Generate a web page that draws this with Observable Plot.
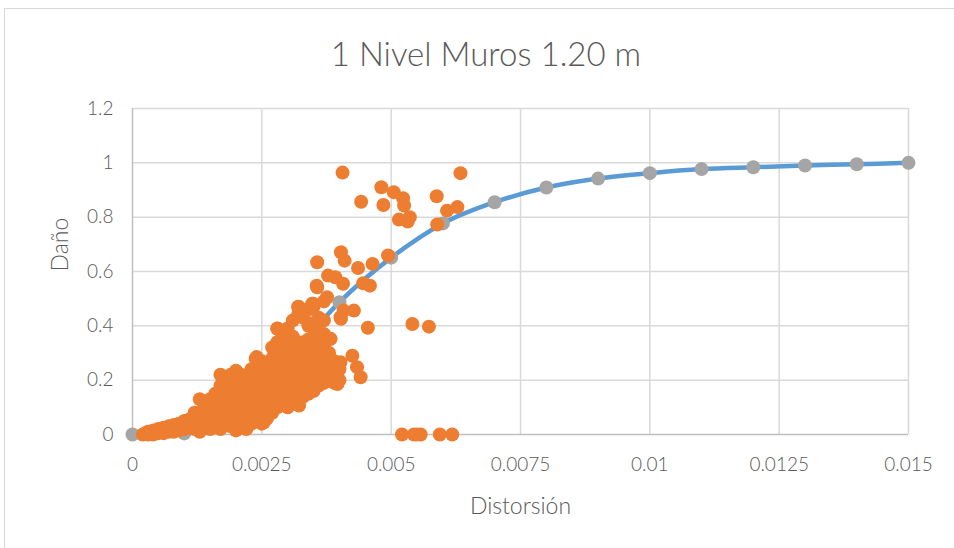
<!DOCTYPE html>
<html>
<head>
<meta charset="utf-8">
<script src="https://cdn.jsdelivr.net/npm/d3@7"></script>
<script src="https://cdn.jsdelivr.net/npm/@observablehq/plot@0.6"></script>
<style>
  html, body { margin: 0; padding: 0; background: #fff; overflow: hidden; }
  #wrap { position: relative; width: 954px; height: 548px; overflow: hidden; }
  #frame { position: absolute; left: 4px; top: 8px; width: 980px; height: 580px; border: 1.5px solid #d9d9d9; box-sizing: border-box; }
  #title { position: absolute; left: 4px; width: 964px; top: 33px; text-align: center; font-family: Lato, "Open Sans", sans-serif; font-size: 33px; color: #595959; margin: 0; font-weight: 300; }
  #chart { position: absolute; left: 0; top: 0; }
</style>
</head>
<body>
<div id="wrap">
  <div id="frame"></div>
  <div id="chart"></div>
  <h2 id="title">1 Nivel Muros 1.20 m</h2>
</div>
<script>
const chartTitle = "1 Nivel Muros 1.20 m";
const xLabel = "Distorsión";
const yLabel = "Daño";
const xTicks = [0, 0.0025, 0.005, 0.0075, 0.01, 0.0125, 0.015];
const xTickLabels = ["0", "0.0025", "0.005", "0.0075", "0.01", "0.0125", "0.015"];
const yTicks = [0, 0.2, 0.4, 0.6, 0.8, 1, 1.2];
const yTickLabels = ["0", "0.2", "0.4", "0.6", "0.8", "1", "1.2"];

// fitted fragility curve (gray markers + blue smooth line)
const curveX = [0, 0.001, 0.002, 0.003, 0.004, 0.005, 0.006, 0.007, 0.008, 0.009, 0.010, 0.011, 0.012, 0.013, 0.014, 0.015];
const curveY = [0, 0.004, 0.06, 0.27, 0.487, 0.651, 0.777, 0.855, 0.909, 0.942, 0.962, 0.977, 0.984, 0.990, 0.995, 1.0];

// observed damage vs drift (orange), dense cluster
const clusterPoints = [
[0.0002,0],[0.00025,0.005],[0.0003,0],[0.0003,0.01],[0.0004,0],[0.0004,0.015],[0.0005,0.005],[0.0005,0.02],
[0.0006,0.005],[0.0006,0.025],[0.0007,0.01],[0.0007,0.03],[0.0008,0.01],[0.0008,0.035],[0.0009,0.015],[0.0009,0.04],
[0.001,0.02],[0.001,0.05],[0.0011,0.025],[0.0011,0.055],[0.0012,0.02],[0.0012,0.05],[0.0012,0.08],
[0.0013,0.01],[0.0013,0.04],[0.0013,0.08],[0.0013,0.13],[0.0014,0.03],[0.0014,0.07],[0.0014,0.11],
[0.0015,0.02],[0.0015,0.06],[0.0015,0.1],[0.0015,0.13],[0.0016,0.03],[0.0016,0.07],[0.0016,0.11],[0.0016,0.15],
[0.0017,0.02],[0.0017,0.06],[0.0017,0.1],[0.0017,0.14],[0.0017,0.18],[0.0017,0.22],
[0.0018,0.04],[0.0018,0.08],[0.0018,0.12],[0.0018,0.16],[0.0018,0.2],
[0.0019,0.03],[0.0019,0.07],[0.0019,0.11],[0.0019,0.15],[0.0019,0.19],[0.0019,0.22],
[0.002,0.015],[0.002,0.05],[0.002,0.09],[0.002,0.13],[0.002,0.17],[0.002,0.21],[0.002,0.235],
[0.0021,0.03],[0.0021,0.07],[0.0021,0.11],[0.0021,0.15],[0.0021,0.19],[0.0021,0.22],
[0.0022,0.02],[0.0022,0.06],[0.0022,0.1],[0.0022,0.14],[0.0022,0.18],[0.0022,0.21],
[0.0023,0.04],[0.0023,0.08],[0.0023,0.12],[0.0023,0.16],[0.0023,0.2],[0.0023,0.24],
[0.0024,0.05],[0.0024,0.09],[0.0024,0.13],[0.0024,0.17],[0.0024,0.21],[0.0024,0.25],[0.0024,0.285],
[0.0025,0.04],[0.0025,0.08],[0.0025,0.12],[0.0025,0.16],[0.0025,0.2],[0.0025,0.24],[0.0025,0.27],
[0.0026,0.06],[0.0026,0.1],[0.0026,0.14],[0.0026,0.18],[0.0026,0.22],[0.0026,0.26],
[0.0027,0.08],[0.0027,0.12],[0.0027,0.16],[0.0027,0.2],[0.0027,0.24],[0.0027,0.28],[0.0027,0.32],
[0.0028,0.1],[0.0028,0.14],[0.0028,0.18],[0.0028,0.22],[0.0028,0.26],[0.0028,0.3],[0.0028,0.34],[0.0028,0.39],
[0.0029,0.11],[0.0029,0.15],[0.0029,0.19],[0.0029,0.23],[0.0029,0.27],[0.0029,0.31],[0.0029,0.36],
[0.003,0.1],[0.003,0.14],[0.003,0.18],[0.003,0.22],[0.003,0.26],[0.003,0.3],[0.003,0.34],[0.003,0.39],
[0.0031,0.12],[0.0031,0.16],[0.0031,0.2],[0.0031,0.24],[0.0031,0.28],[0.0031,0.32],[0.0031,0.36],[0.0031,0.42],
[0.0032,0.11],[0.0032,0.15],[0.0032,0.19],[0.0032,0.23],[0.0032,0.27],[0.0032,0.31],[0.0032,0.34],[0.0032,0.44],[0.0032,0.47],
[0.0033,0.14],[0.0033,0.18],[0.0033,0.22],[0.0033,0.26],[0.0033,0.3],[0.0033,0.34],[0.0033,0.43],
[0.0034,0.15],[0.0034,0.19],[0.0034,0.23],[0.0034,0.27],[0.0034,0.31],[0.0034,0.35],[0.0034,0.4],[0.0034,0.46],
[0.0035,0.16],[0.0035,0.2],[0.0035,0.24],[0.0035,0.28],[0.0035,0.32],[0.0035,0.36],[0.0035,0.41],[0.0035,0.47],
[0.0036,0.18],[0.0036,0.22],[0.0036,0.26],[0.0036,0.3],[0.0036,0.34],[0.0036,0.38],[0.0036,0.43],
[0.0037,0.19],[0.0037,0.23],[0.0037,0.28],[0.0037,0.32],[0.0037,0.37],[0.0037,0.42],[0.0037,0.49],
[0.0038,0.2],[0.0038,0.25],[0.0038,0.3],[0.0038,0.35],
[0.0039,0.19],[0.0039,0.23],[0.0039,0.27],
[0.004,0.2],[0.004,0.24]
];

// observed damage, scattered points
const outlierPoints = [
[0.00406,0.964],[0.00634,0.962],[0.00481,0.910],[0.00442,0.857],[0.00485,0.845],[0.00505,0.892],
[0.00523,0.870],[0.00525,0.843],[0.00515,0.791],[0.00536,0.800],[0.00532,0.784],[0.00588,0.877],
[0.00608,0.824],[0.00628,0.837],[0.00589,0.773],[0.00494,0.659],[0.00403,0.671],[0.00410,0.640],
[0.00436,0.613],[0.00464,0.628],[0.00378,0.585],[0.00392,0.579],[0.00407,0.555],[0.00446,0.557],
[0.00459,0.548],[0.00357,0.634],[0.00356,0.548],[0.00376,0.505],[0.00322,0.462],[0.00350,0.481],
[0.00408,0.456],[0.00428,0.456],[0.00403,0.426],[0.00402,0.432],[0.00455,0.393],[0.00541,0.407],
[0.00573,0.397],[0.00425,0.290],[0.00434,0.248],[0.00441,0.211],[0.00396,0.186],[0.00402,0.266],
[0.00383,0.260],[0.00363,0.272],[0.00383,0.352],[0.00357,0.542],[0.00347,0.481],[0.00322,0.469],
[0.00322,0.107],[0.00254,0.045],[0.00238,0.279],[0.00280,0.389]
];

// observed points with zero damage
const zeroPoints = [[0.00521,0],[0.00544,0],[0.00550,0],[0.00557,0],[0.00594,0],[0.00618,0]];

const curve = curveX.map((x, i) => ({x, y: curveY[i]}));
const obs = [...clusterPoints, ...outlierPoints, ...zeroPoints].map(([x, y]) => ({x, y}));

const FONT = 'Lato, "Open Sans", sans-serif';
const TXT = "#595959";

const plot = Plot.plot({
  width: 954,
  height: 548,
  marginLeft: 132,
  marginRight: 46,
  marginTop: 108,
  marginBottom: 114,
  style: {fontFamily: FONT, background: "transparent", overflow: "visible"},
  x: {domain: [0, 0.015]},
  y: {domain: [0, 1.2]},
  marks: [
    Plot.gridX(xTicks.slice(1), {stroke: "#d9d9d9", strokeOpacity: 1, strokeWidth: 1.5}),
    Plot.gridY(yTicks.slice(1), {stroke: "#d9d9d9", strokeOpacity: 1, strokeWidth: 1.5}),
    Plot.ruleX([0], {stroke: "#bfbfbf", strokeWidth: 1.5}),
    Plot.ruleY([0], {stroke: "#bfbfbf", strokeWidth: 1.5}),
    Plot.axisX(xTicks, {tickSize: 0, tickPadding: 23, fontSize: 19, fontWeight: 300, fill: TXT, label: null,
      tickFormat: (d) => xTickLabels[xTicks.indexOf(d)]}),
    Plot.axisY(yTicks, {tickSize: 0, tickPadding: 19, fontSize: 19, fontWeight: 300, fill: TXT, label: null,
      tickFormat: (d) => yTickLabels[yTicks.indexOf(d)]}),
    Plot.text([xLabel], {frameAnchor: "bottom", dy: 79, fontSize: 23, fontWeight: 300, fill: TXT, text: d => d}),
    Plot.text([yLabel], {frameAnchor: "left", dx: -72, rotate: -90, fontSize: 23, fontWeight: 300, fill: TXT, text: d => d}),
    Plot.line(curve, {x: "x", y: "y", curve: "catmull-rom", stroke: "#5B9BD5", strokeWidth: 4.5}),
    Plot.dot(curve, {x: "x", y: "y", r: 7, fill: "#A5A5A5", stroke: "none"}),
    Plot.dot(obs, {x: "x", y: "y", r: 7, fill: "#ED7D31", stroke: "none"})
  ]
});
document.getElementById("chart").appendChild(plot);
document.getElementById("title").textContent = chartTitle;
</script>
</body>
</html>
